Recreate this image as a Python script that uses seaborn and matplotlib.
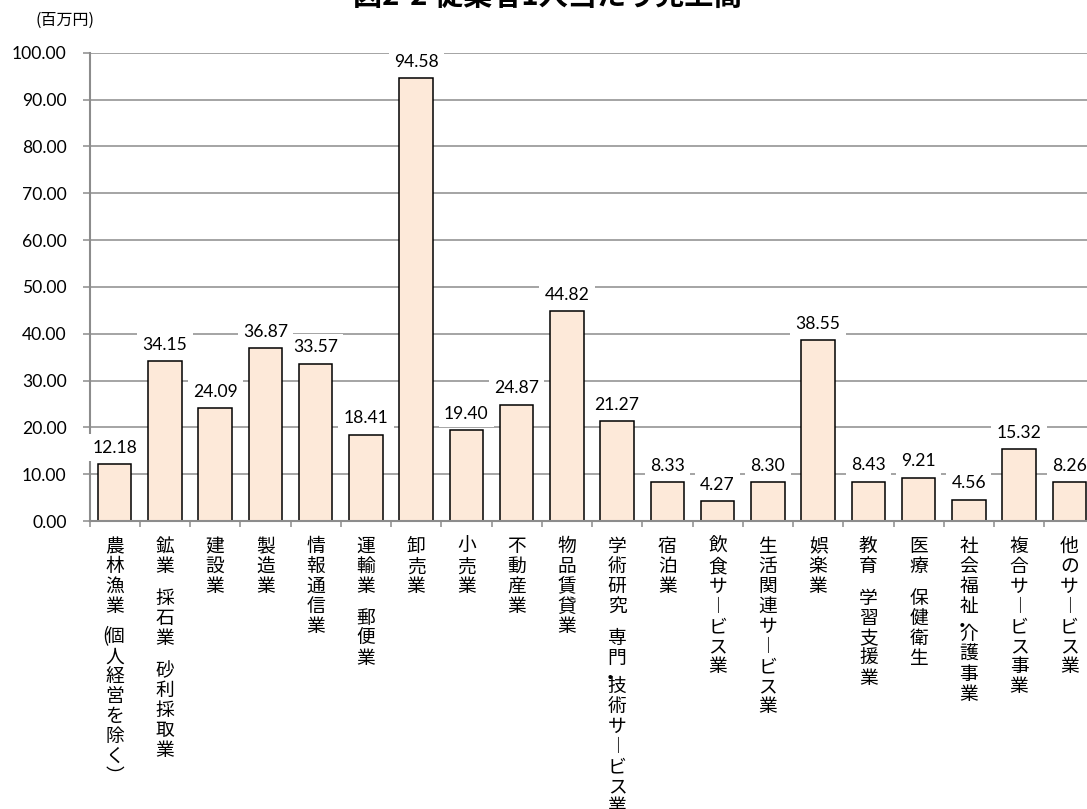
import numpy as np
import pandas as pd
import matplotlib
matplotlib.use("Agg")
import matplotlib.pyplot as plt
from matplotlib.ticker import FormatStrFormatter
import seaborn as sns

# 産業別 従業者1人当たり売上高（百万円）
categories = [
    "農林漁業（個人経営を除く）",
    "鉱業，採石業，砂利採取業",
    "建設業",
    "製造業",
    "情報通信業",
    "運輸業，郵便業",
    "卸売業",
    "小売業",
    "不動産業",
    "物品賃貸業",
    "学術研究，専門・技術サービス業",
    "宿泊業",
    "飲食サービス業",
    "生活関連サービス業",
    "娯楽業",
    "教育，学習支援業",
    "医療，保健衛生",
    "社会福祉・介護事業",
    "複合サービス事業",
    "他のサービス業",
]
values = [12.18, 34.15, 24.09, 36.87, 33.57, 18.41, 94.58, 19.40, 24.87, 44.82,
          21.27, 8.33, 4.27, 8.30, 38.55, 8.43, 9.21, 4.56, 15.32, 8.26]
y_ticks = [0, 10, 20, 30, 40, 50, 60, 70, 80, 90, 100]
unit_label = "(百万円)"
title = "図2-2 従業者1人当たり売上高"

BAR = "#FDE9D9"
GRID = "#8C8C8C"
CJK = ["Noto Sans CJK JP", "DejaVu Sans"]

sns.set_theme(style="white")
plt.rcParams["font.family"] = ["Lato", "Noto Sans CJK JP", "DejaVu Sans"]

W, H = 1087, 809
fig = plt.figure(figsize=(W / 100, H / 100), dpi=100)
ax = fig.add_axes([89.5 / W, (H - 521) / H, (1094.5 - 89.5) / W, (521 - 52.7) / H])

df = pd.DataFrame({"業種": categories, "売上高": values})
sns.barplot(data=df, x="業種", y="売上高", color=BAR, saturation=1,
            edgecolor="black", linewidth=1.1, width=0.667, ax=ax, zorder=2)

ax.set_xlim(-0.5, len(categories) - 0.5)
ax.set_ylim(0, 100)
ax.set_xlabel("")
ax.set_ylabel("")

# y axis
ax.set_yticks(y_ticks)
ax.yaxis.set_major_formatter(FormatStrFormatter("%.2f"))
ax.tick_params(axis="y", left=True, length=5, width=1.1, color=GRID,
               pad=11.5, labelsize=12.6, labelcolor="black")
ax.grid(axis="y", color=GRID, linewidth=1.1)
ax.grid(axis="x", visible=False)
ax.set_axisbelow(True)

# x axis: tick marks on category boundaries, labels stacked vertically
ax.set_xticks(np.arange(-0.5, len(categories), 1.0))
ax.set_xticklabels([])
ax.tick_params(axis="x", bottom=True, length=4, width=1.1, color=GRID)

for side in ("top", "right"):
    ax.spines[side].set_visible(False)
for side in ("left", "bottom"):
    ax.spines[side].set_color(GRID)
    ax.spines[side].set_linewidth(1.5)

# value labels with white backing
for i, v in enumerate(values):
    ax.annotate(f"{v:.2f}", xy=(i, v), xytext=(0, 8.2), textcoords="offset points",
                ha="center", va="baseline", fontsize=12.6, color="black",
                bbox=dict(boxstyle="square,pad=0.3", fc="white", ec="none"),
                zorder=3, annotation_clip=False)

# vertical (tategaki) category labels
PX = 0.72            # points per pixel at 100 dpi
PITCH = 20.0         # line pitch in pixels
FIRST = 31.2         # first baseline below the axis, pixels
VERT = {"ー": "︱", "）": "︶"}


def put(i, ch, ypx, dxpx=0.0):
    ax.annotate(ch, xy=(i, 0), xycoords=("data", "axes fraction"),
                xytext=(dxpx * PX, -ypx * PX), textcoords="offset points",
                ha="center", va="baseline", fontsize=13.5, family=CJK,
                color="black", annotation_clip=False)


for i, name in enumerate(categories):
    cur = FIRST
    for ch in name:
        if ch == "，":
            cur += 0.6 * PITCH
        elif ch == "・":
            put(i, ch, cur, -7)
            cur += 0.4 * PITCH
        elif ch == "（":
            cur += 0.5 * PITCH
            put(i, "(", cur, -9)
        else:
            put(i, VERT.get(ch, ch), cur)
            cur += PITCH

fig.text(65 / W, 1 - 20 / H, unit_label, ha="center", va="center",
         fontsize=11.5, family=CJK, color="black")
fig.text(547.5 / W, 1 - 5.3 / H, title, ha="center", va="baseline",
         fontsize=21, fontweight="bold", family=CJK, color="black")

fig.savefig("out.png", dpi=100)
